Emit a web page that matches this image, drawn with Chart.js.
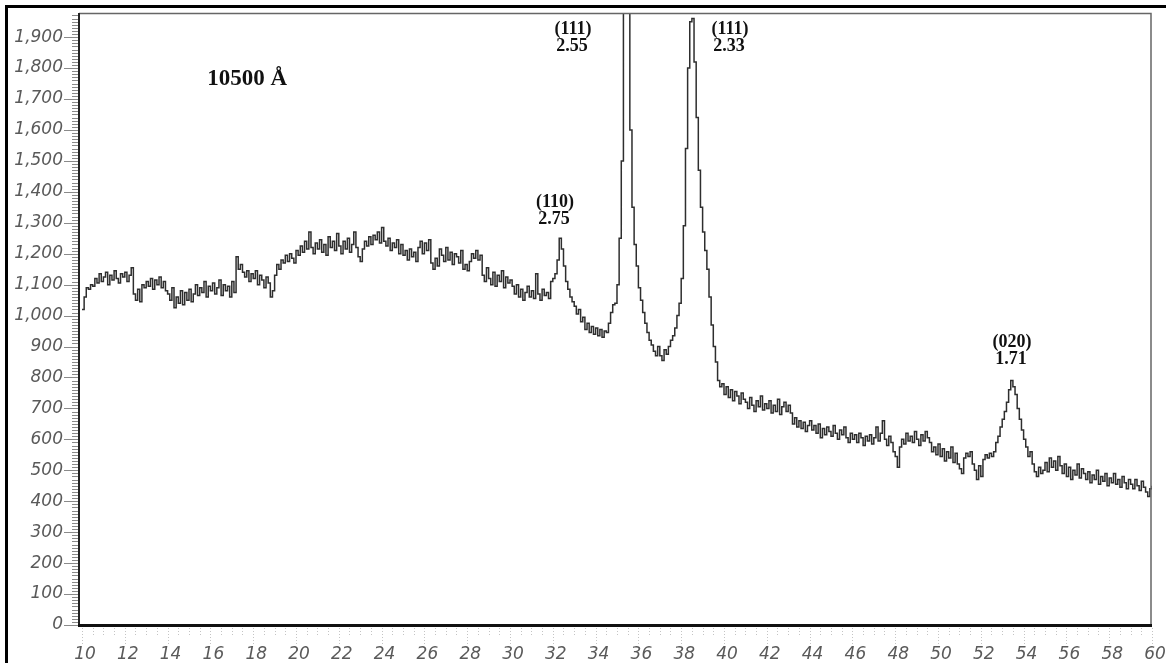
<!DOCTYPE html>
<html>
<head>
<meta charset="utf-8">
<title>XRD 10500 Å</title>
<script src="https://cdn.jsdelivr.net/npm/chart.js@4.4.1/dist/chart.umd.min.js"></script>
<style>
  html, body { margin: 0; padding: 0; background: #fff; }
</style>
</head>
<body>
<canvas id="xrd" width="1166" height="663"></canvas>
<script>
// 2-theta scan: 10 to 60 deg, one count reading every 0.1 deg
const startAngle = 10;
const stepAngle = 0.1;
const counts = [
  1020, 1060, 1090, 1085, 1100, 1095, 1120, 1105, 1135, 1110, // 10
  1125, 1140, 1100, 1130, 1115, 1145, 1120, 1105, 1135, 1125, // 11
  1140, 1110, 1130, 1155, 1070, 1050, 1085, 1045, 1100, 1090, // 12
  1110, 1095, 1120, 1085, 1115, 1100, 1125, 1090, 1110, 1080, // 13
  1070, 1050, 1090, 1025, 1060, 1040, 1080, 1035, 1075, 1050, // 14
  1085, 1045, 1070, 1100, 1065, 1090, 1075, 1110, 1060, 1095, // 15
  1080, 1105, 1070, 1090, 1115, 1065, 1100, 1080, 1095, 1060, // 16
  1110, 1075, 1190, 1150, 1165, 1140, 1125, 1145, 1110, 1135, // 17
  1120, 1145, 1100, 1130, 1115, 1090, 1125, 1105, 1060, 1080, // 18
  1130, 1165, 1150, 1180, 1170, 1195, 1175, 1200, 1185, 1170, // 19
  1210, 1195, 1225, 1205, 1240, 1215, 1270, 1220, 1200, 1235, // 20
  1215, 1245, 1205, 1230, 1195, 1255, 1220, 1240, 1210, 1265, // 21
  1225, 1200, 1240, 1215, 1250, 1205, 1230, 1270, 1220, 1190, // 22
  1175, 1215, 1240, 1225, 1255, 1230, 1260, 1245, 1270, 1235, // 23
  1285, 1240, 1225, 1250, 1210, 1235, 1220, 1245, 1200, 1230, // 24
  1195, 1210, 1180, 1215, 1190, 1205, 1175, 1220, 1240, 1200, // 25
  1235, 1210, 1245, 1170, 1150, 1185, 1160, 1215, 1195, 1175, // 26
  1220, 1180, 1205, 1165, 1200, 1190, 1170, 1210, 1150, 1165, // 27
  1145, 1175, 1200, 1185, 1210, 1180, 1195, 1130, 1110, 1155, // 28
  1120, 1100, 1140, 1095, 1130, 1110, 1145, 1090, 1125, 1105, // 29
  1115, 1095, 1070, 1100, 1060, 1085, 1050, 1075, 1095, 1060, // 30
  1080, 1055, 1135, 1070, 1050, 1085, 1065, 1075, 1055, 1110, // 31
  1120, 1135, 1180, 1250, 1215, 1160, 1110, 1085, 1060, 1045, // 32
  1030, 1005, 1020, 980, 995, 955, 975, 945, 965, 940,        // 33
  960, 935, 955, 930, 950, 945, 975, 1010, 1035, 1040,        // 34
  1100, 1250, 1500, 3200, 4500, 2400, 1600, 1350, 1230, 1160, // 35
  1090, 1050, 1010, 975, 945, 920, 905, 885, 870, 900,        // 36
  870, 855, 890, 875, 900, 920, 935, 960, 1000, 1040,         // 37
  1120, 1290, 1540, 1800, 1950, 1960, 1820, 1640, 1470, 1350, // 38
  1270, 1210, 1150, 1060, 970, 900, 850, 790, 770, 780,       // 39
  745, 770, 735, 760, 725, 755, 740, 715, 750, 730,           // 40
  720, 700, 735, 710, 690, 725, 705, 740, 695, 715,           // 41
  700, 725, 685, 710, 690, 730, 680, 705, 720, 690,           // 42
  710, 685, 650, 670, 640, 660, 635, 655, 625, 645,           // 43
  660, 630, 645, 620, 650, 605, 635, 615, 640, 625,           // 44
  610, 645, 620, 600, 630, 615, 640, 605, 590, 620,           // 45
  600, 615, 590, 620, 605, 580, 610, 595, 615, 585,           // 46
  605, 640, 595, 620, 660, 600, 580, 610, 590, 560,           // 47
  545, 510, 575, 600, 585, 620, 595, 610, 590, 625,           // 48
  600, 580, 615, 595, 625, 605, 590, 560, 575, 550,           // 49
  585, 545, 570, 530, 560, 540, 575, 525, 555, 520,           // 50
  505, 490, 540, 555, 545, 560, 520, 500, 470, 515,           // 51
  480, 535, 550, 540, 555, 545, 560, 590, 610, 640,           // 52
  665, 690, 720, 760, 790, 770, 745, 700, 665, 630,           // 53
  600, 575, 545, 560, 520, 495, 480, 510, 490, 500,           // 54
  525, 495, 540, 510, 530, 500, 545, 515, 490, 520,           // 55
  480, 510, 470, 500, 485, 520, 475, 505, 490, 470,           // 56
  495, 460, 485, 470, 500, 455, 480, 465, 490, 450,           // 57
  475, 460, 490, 455, 470, 445, 480, 460, 440, 470,           // 58
  455, 440, 470, 450, 435, 465, 445, 430, 415, 440,           // 59
  450                                                         // 60
];

const xTicks = [10, 12, 14, 16, 18, 20, 22, 24, 26, 28, 30, 32, 34, 36, 38, 40, 42, 44, 46, 48, 50, 52, 54, 56, 58, 60];
const yTicks = [0, 100, 200, 300, 400, 500, 600, 700, 800, 900, 1000, 1100, 1200, 1300, 1400, 1500, 1600, 1700, 1800, 1900];

// reflections: Miller indices and d-spacing (Å)
const peakHkl = ['(110)', '(111)', '(111)', '(020)'];
const peakD = ['2.75', '2.55', '2.33', '1.71'];
const sampleLabel = '10500 Å';

const points = counts.map((c, i) => ({ x: startAngle + i * stepAngle, y: c }));

// where each reflection label sits, in axis units
const labelSpots = [
  { x: 32.1, y: 1367 },
  { x: 32.94, y: 1926 },
  { x: 40.28, y: 1926 },
  { x: 53.46, y: 914 }
];

const tickFont = { family: 'DejaVu Sans', size: 17, style: 'italic' };

// keep the plot box fixed: no extra room for the end labels
function fixAxis(size, key) {
  return s => {
    s[key] = size;
    s.paddingTop = 0;
    s.paddingBottom = 0;
    s.paddingLeft = 0;
    s.paddingRight = 0;
  };
}

const decorations = {
  id: 'decorations',
  afterDraw(chart) {
    const ctx = chart.ctx;
    const area = chart.chartArea;
    const xs = chart.scales.x;
    const ys = chart.scales.y;
    ctx.save();

    // y-axis tick marks, major every 100, minor every 10
    ctx.strokeStyle = '#8a8a8a';
    ctx.lineWidth = 1;
    for (let v = 0; v <= 1970; v += 10) {
      const py = Math.round(ys.getPixelForValue(v)) + 0.5;
      ctx.beginPath();
      ctx.moveTo(v % 100 === 0 ? 64 : 72, py);
      ctx.lineTo(area.left, py);
      ctx.stroke();
    }

    // faint dotted ticks under the x axis
    ctx.strokeStyle = '#c4c4c4';
    ctx.setLineDash([1, 2]);
    for (let v = 10; v <= 60; v += 0.5) {
      const px = Math.round(xs.getPixelForValue(v)) + 0.5;
      ctx.beginPath();
      ctx.moveTo(px, area.bottom + 3);
      ctx.lineTo(px, area.bottom + (v % 2 === 0 ? 19 : 10));
      ctx.stroke();
    }
    ctx.setLineDash([]);

    // plot frame
    ctx.strokeStyle = '#666';
    ctx.lineWidth = 1.5;
    ctx.beginPath();
    ctx.moveTo(area.left, area.top + 0.5);
    ctx.lineTo(area.right - 1, area.top + 0.5);
    ctx.lineTo(area.right - 1, area.bottom);
    ctx.stroke();
    ctx.fillStyle = '#222';
    ctx.fillRect(area.left - 1, area.top, 2, area.bottom - area.top + 1);
    ctx.fillStyle = '#111';
    ctx.fillRect(area.left - 1, area.bottom - 1, area.right - area.left + 1, 3);

    // outer border of the sheet
    ctx.fillStyle = '#000';
    ctx.fillRect(5, 5, chart.width - 5, 3);
    ctx.fillRect(5, 5, 3, chart.height - 5);

    // reflection labels
    ctx.fillStyle = '#111';
    ctx.textAlign = 'center';
    ctx.textBaseline = 'middle';
    ctx.font = 'bold 18px "Liberation Serif"';
    labelSpots.forEach((s, i) => {
      const px = xs.getPixelForValue(s.x);
      const py = ys.getPixelForValue(s.y);
      ctx.fillText(peakHkl[i], px, py);
      ctx.fillText(peakD[i], px - 1, py + 17);
    });

    // film thickness
    ctx.textAlign = 'left';
    ctx.font = 'bold 23px "Liberation Serif"';
    ctx.fillText(sampleLabel, xs.getPixelForValue(15.85), ys.getPixelForValue(1764));

    ctx.restore();
  }
};

new Chart(document.getElementById('xrd'), {
  type: 'line',
  data: {
    datasets: [{
      data: points,
      borderColor: '#2e2e2e',
      borderWidth: 1.5,
      pointRadius: 0,
      stepped: true,
      fill: false
    }]
  },
  options: {
    responsive: false,
    animation: false,
    layout: { padding: { top: 13, right: 14, left: 0, bottom: 0 } },
    plugins: { legend: { display: false }, tooltip: { enabled: false } },
    scales: {
      x: {
        type: 'linear',
        min: 9.86,
        max: 60,
        afterBuildTicks: s => { s.ticks = xTicks.map(v => ({ value: v })); },
        afterFit: fixAxis(38, 'height'),
        grid: { display: false, drawTicks: false },
        border: { display: false },
        ticks: {
          font: tickFont,
          color: '#5a5a5a',
          padding: 19,
          labelOffset: 3,
          maxRotation: 0,
          autoSkip: false
        }
      },
      y: {
        min: 0,
        max: 1978,
        afterBuildTicks: s => { s.ticks = yTicks.map(v => ({ value: v })); },
        afterFit: fixAxis(79, 'width'),
        grid: { display: false, drawTicks: false },
        border: { display: false },
        ticks: {
          font: tickFont,
          color: '#5a5a5a',
          padding: 16,
          autoSkip: false,
          callback: v => v.toLocaleString('en-US')
        }
      }
    }
  },
  plugins: [decorations]
});
</script>
</body>
</html>
